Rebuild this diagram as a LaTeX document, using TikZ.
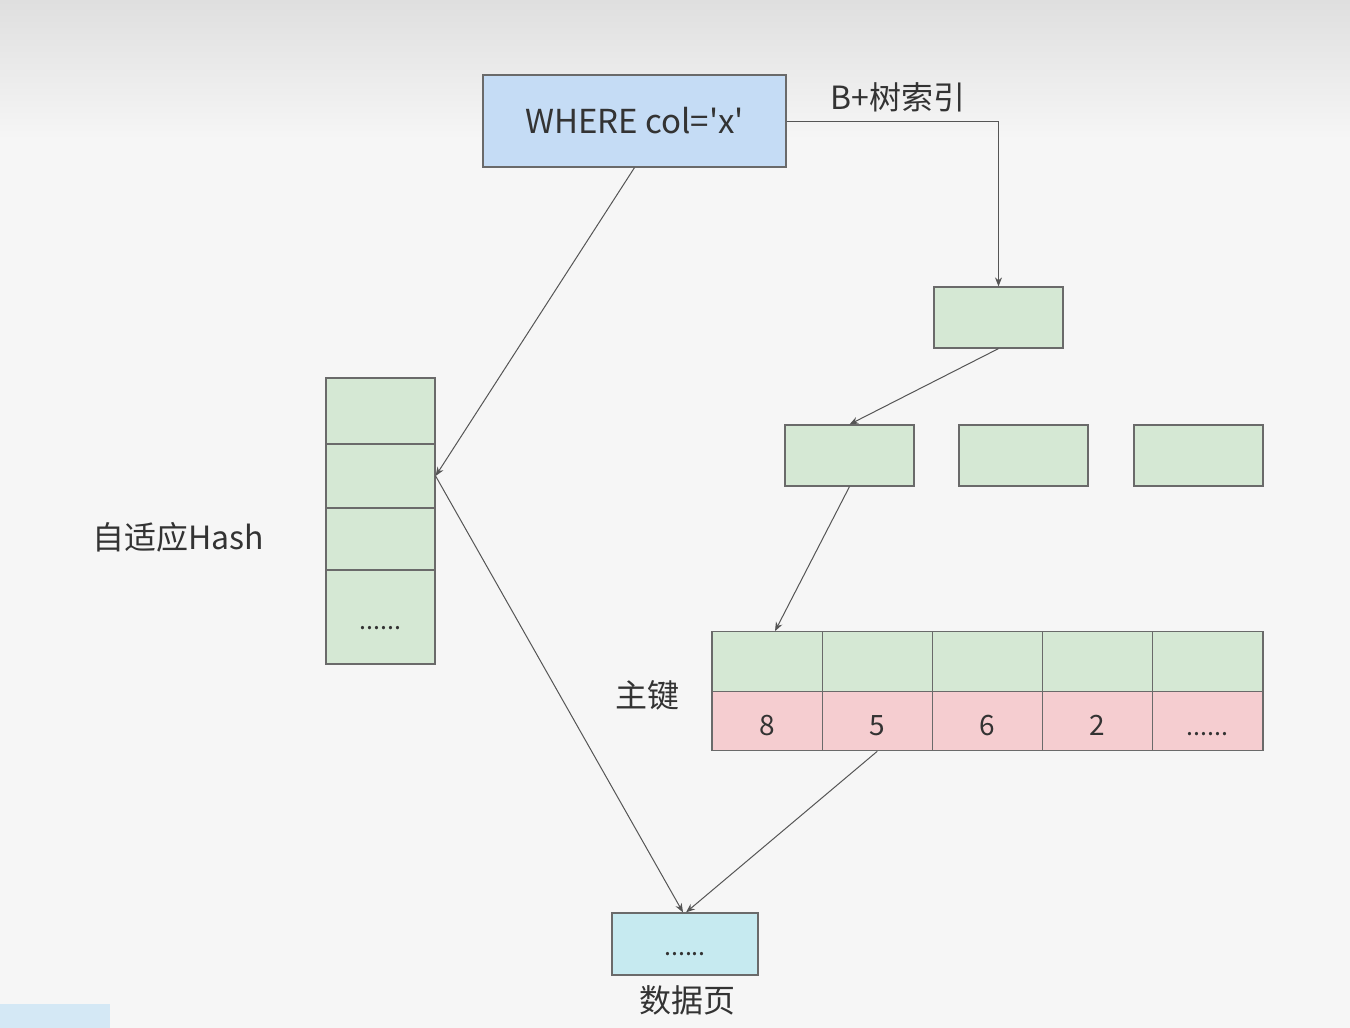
\documentclass[tikz,border=0pt]{standalone}
\usepackage{fontspec}
\newfontfamily\cjk{Noto Sans CJK SC}
\usetikzlibrary{arrows.meta}
\definecolor{bgc}{HTML}{F6F6F6}
\definecolor{topc}{HTML}{DFDFDF}
\definecolor{bluec}{HTML}{C5DCF5}
\definecolor{greenc}{HTML}{D5E8D4}
\definecolor{pinkc}{HTML}{F5CDD0}
\definecolor{cyanc}{HTML}{C6EAF0}
\definecolor{linec}{HTML}{555555}
\definecolor{boxline}{HTML}{6A6A6A}
\definecolor{txtc}{HTML}{333333}
\definecolor{patchc}{HTML}{D4E8F5}
\newcommand{\lowtxt}[2]{\raisebox{-#1}[0pt][0pt]{#2}}
\tikzset{
  box/.style={draw=boxline, line width=0.6pt, inner sep=0pt, font=\cjk\color{txtc}},
  gbox/.style={box, fill=greenc, minimum width=64.5pt, minimum height=30.5pt},
  cellg/.style={box, fill=greenc, minimum width=55.1pt, minimum height=29.75pt},
  cellp/.style={box, fill=pinkc, minimum width=55.1pt, minimum height=29.75pt, font=\cjk\fontsize{14}{16}\selectfont\color{txtc}},
  hcell/.style={box, fill=greenc, minimum width=54.5pt},
  lbl/.style={inner sep=0pt, font=\cjk\fontsize{16}{19}\selectfont\color{txtc}},
  conn/.style={draw=linec, line width=0.5pt, -{Stealth[length=4.5pt,width=3.5pt]}}
}
\begin{document}
\begin{tikzpicture}[x=0.5pt,y=-0.5pt]
\useasboundingbox (0,0) rectangle (1350,1028);
\fill[bgc] (0,0) rectangle (1350,1028);
\shade[top color=topc, bottom color=bgc] (0,0) rectangle (1350,140);
\fill[patchc] (0,1004) rectangle (110,1028);

% query box
\node[box, fill=bluec, minimum width=151.5pt, minimum height=46pt, font=\cjk\fontsize{16.5}{19}\selectfont\color{txtc}] (where) at (634.5,121) {WHERE col='x'};
\node[lbl] (blabel) at (898,97) {B+树索引};

% B+ tree
\node[gbox] (root) at (998.5,317.5) {};
\node[gbox] (l2a) at (849.5,455.5) {};
\node[gbox] (l2b) at (1023.5,455.5) {};
\node[gbox] (l2c) at (1198.5,455.5) {};

% leaf table
\node[cellg] (g1) at (767,661.5) {};
\node[cellg] (g2) at (877.2,661.5) {};
\node[cellg] (g3) at (987.4,661.5) {};
\node[cellg] (g4) at (1097.6,661.5) {};
\node[cellg] (g5) at (1207.8,661.5) {};
\node[cellp] (p1) at (767,721) {\lowtxt{7pt}{8}};
\node[cellp] (p2) at (877.2,721) {\lowtxt{7pt}{5}};
\node[cellp] (p3) at (987.4,721) {\lowtxt{7pt}{6}};
\node[cellp] (p4) at (1097.6,721) {\lowtxt{7pt}{2}};
\node[cellp, font=\cjk\fontsize{12.5}{14}\selectfont\color{txtc}] (p5) at (1207.8,721) {\lowtxt{7pt}{......}};
\node[lbl] (pk) at (647,695) {主键};

% hash column
\node[hcell, minimum height=33pt] (h1) at (380.5,411) {};
\node[hcell, minimum height=32pt] (h2) at (380.5,476) {};
\node[hcell, minimum height=31pt] (h3) at (380.5,539) {};
\node[hcell, minimum height=47pt, font=\cjk\fontsize{12.5}{14}\selectfont\color{txtc}] (h4) at (380.5,617) {\lowtxt{6pt}{......}};
\node[lbl] (hlabel) at (178,537) {自适应Hash};

% data page
\node[box, fill=cyanc, minimum width=73pt, minimum height=31pt, font=\cjk\fontsize{12.5}{14}\selectfont\color{txtc}] (data) at (685,944) {\lowtxt{5.5pt}{......}};
\node[lbl] (dlabel) at (687,1000) {数据页};

% connectors
\draw[conn] (where.east) -| (root.north);
\draw[conn] (root.south) -- (l2a.north);
\draw[conn] (l2a.south) -- ([xshift=4pt]g1.north);
\draw[conn] (where.south) -- (h2.east);
\draw[conn] (h2.east) -- ([xshift=-1pt]data.north);
\draw[conn] (p2.south) -- ([xshift=0.5pt]data.north);
\end{tikzpicture}
\end{document}
